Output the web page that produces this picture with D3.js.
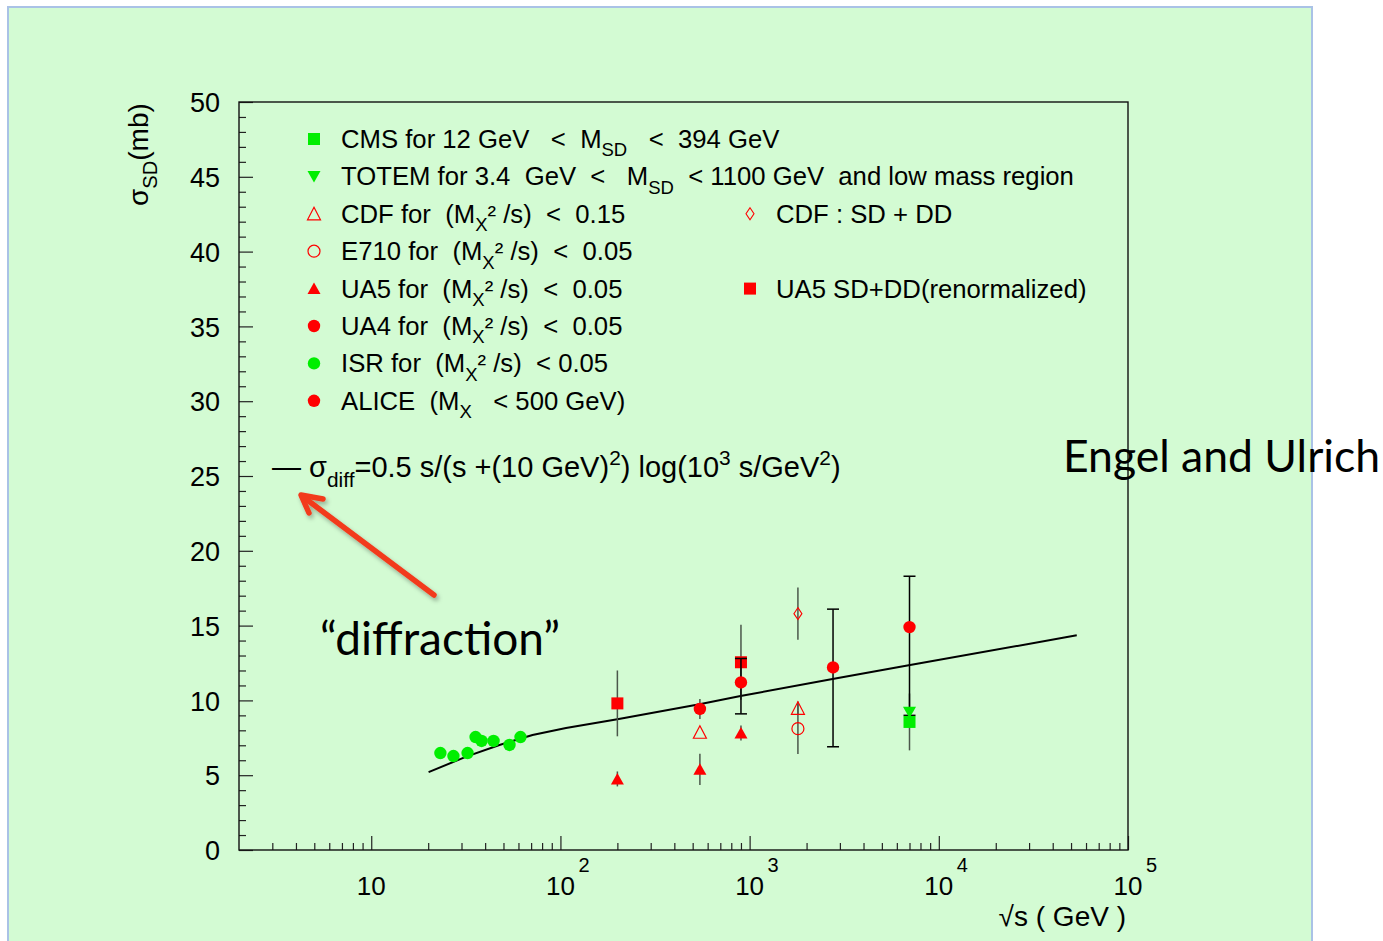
<!DOCTYPE html>
<html>
<head>
<meta charset="utf-8">
<script src="https://cdn.jsdelivr.net/npm/d3@7"></script>
<style>
  body { margin: 0; background: #fff; }
  text { font-family: "Liberation Sans", Arial, sans-serif; white-space: pre; }
  .callout { font-family: Lato, "Open Sans", sans-serif; }
</style>
</head>
<body>
<div id="chart"></div>
<script>
// ---- data: [sqrt(s) GeV, sigma mb, err down, err up] ----
var isr      = [[23.2, 6.48, 0, 0], [27.2, 6.28, 0, 0], [32.3, 6.48, 0, 0], [35.6, 7.55, 0.35, 0.35],
                [38.3, 7.29, 0, 0], [44.3, 7.29, 0, 0], [53.8, 7.02, 0, 0], [61.5, 7.55, 0, 0]];
var ua5      = [[200, 4.75, 0.5, 0.5], [546, 5.39, 1.05, 1.05], [900, 7.82, 0.5, 0.5]];
var ua4      = [[546, 9.43, 0.67, 0.67]];
var cdf      = [[546, 7.87, 0, 0], [1800, 9.47, 0.45, 0.45]];
var e710     = [[1800, 8.11, 1.7, 1.7]];
var cdfSdDd  = [[1800, 15.8, 1.75, 1.75]];
var ua5SdDd  = [[200, 9.8, 2.2, 2.2], [900, 12.55, 2.5, 2.5]];
var alice    = [[900, 11.2, 2.1, 1.6], [2760, 12.2, 5.3, 3.9], [7000, 14.9, 5.9, 3.4]];
var cms      = [[7000, 8.56, 1.9, 1.9]];
var totem    = [[7000, 9.2, 0, 0]];

// Engel and Ulrich curve, sampled from the drawn line
var curveS     = [20.1, 31.8, 47.6, 71.2, 107, 200, 543, 895, 2744, 6934, 53600];
var curveSigma = [5.21, 6.24, 7.02, 7.69, 8.15, 8.74, 9.74, 10.29, 11.43, 12.35, 14.35];

var xDomain = [2, 1e5];
var yDomain = [0, 50];
var xMajor = [10, 100, 1000, 10000, 100000];
var xLabelExp = ["", "2", "3", "4", "5"];
var yMajor = d3.range(0, 51, 5);

var legendRows = [
  [{t: "CMS for 12 GeV   <  M"}, {t: "SD", s: "sub"}, {t: "   <  394 GeV"}],
  [{t: "TOTEM for 3.4  GeV  <   M"}, {t: "SD", s: "sub"}, {t: "  < 1100 GeV  and low mass region"}],
  [{t: "CDF for  (M"}, {t: "X", s: "sub"}, {t: "² /s)  <  0.15"}],
  [{t: "E710 for  (M"}, {t: "X", s: "sub"}, {t: "² /s)  <  0.05"}],
  [{t: "UA5 for  (M"}, {t: "X", s: "sub"}, {t: "² /s)  <  0.05"}],
  [{t: "UA4 for  (M"}, {t: "X", s: "sub"}, {t: "² /s)  <  0.05"}],
  [{t: "ISR for  (M"}, {t: "X", s: "sub"}, {t: "² /s)  < 0.05"}],
  [{t: "ALICE  (M"}, {t: "X", s: "sub"}, {t: "   < 500 GeV)"}]
];
var legendMarks = ["squareG", "triDownG", "triOpen", "circOpen", "triR", "circR", "circG", "circR"];
var legend2 = [{row: 2, mark: "diamond", t: "CDF : SD + DD"}, {row: 4, mark: "squareR", t: "UA5 SD+DD(renormalized)"}];

var width = 1383, height = 941;
var margin = {left: 239, right: 1128, top: 102, bottom: 850};

var svg = d3.select("#chart").append("svg")
    .attr("width", width)
    .attr("height", height);

var defs = svg.append("defs");
var shadow = defs.append("filter").attr("id", "shadow").attr("x", "-20%").attr("y", "-20%")
    .attr("width", "140%").attr("height", "140%");
shadow.append("feDropShadow").attr("dx", 2).attr("dy", 3).attr("stdDeviation", 2)
    .attr("flood-color", "#000").attr("flood-opacity", 0.3);

// slide panel
svg.append("rect")
    .attr("x", 8).attr("y", 7).attr("width", 1304).attr("height", 950)
    .attr("fill", "#d3fbd3").attr("stroke", "#aac2e6").attr("stroke-width", 2);

var x = d3.scaleLog().domain(xDomain).range([margin.left, margin.right]);
var y = d3.scaleLinear().domain(yDomain).range([margin.bottom, margin.top]);

// axes: ticks inside the frame
var xMinor = [];
[1, 10, 100, 1000, 10000].forEach(function(d) {
    for (var k = 2; k <= 9; k++) if (d * k > xDomain[0]) xMinor.push(d * k);
});

svg.append("g").attr("transform", "translate(0," + margin.bottom + ")")
    .call(d3.axisBottom(x).tickValues(xMinor).tickSize(-7).tickFormat("").tickSizeOuter(0))
    .call(function(g) { g.select(".domain").remove(); });
svg.append("g").attr("transform", "translate(0," + margin.bottom + ")")
    .call(d3.axisBottom(x).tickValues(xMajor).tickSize(-14).tickFormat("").tickSizeOuter(0))
    .call(function(g) { g.select(".domain").remove(); });

var yMinor = d3.range(0, 51, 1).filter(function(d) { return d % 5 !== 0; });
svg.append("g").attr("transform", "translate(" + margin.left + ",0)")
    .call(d3.axisLeft(y).tickValues(yMinor).tickSize(-7).tickFormat("").tickSizeOuter(0))
    .call(function(g) { g.select(".domain").remove(); });
svg.append("g").attr("transform", "translate(" + margin.left + ",0)")
    .call(d3.axisLeft(y).tickValues(yMajor).tickSize(-14).tickPadding(19).tickSizeOuter(0))
    .call(function(g) {
        g.select(".domain").remove();
        g.selectAll("text").attr("font-size", 27).attr("fill", "#000")
            .attr("font-family", "Liberation Sans, Arial, sans-serif").attr("dy", "0.36em");
    });
svg.selectAll(".tick line").attr("stroke", "#222").attr("stroke-width", 1.2);

// frame
svg.append("rect")
    .attr("x", margin.left).attr("y", margin.top)
    .attr("width", margin.right - margin.left).attr("height", margin.bottom - margin.top)
    .attr("fill", "none").attr("stroke", "#111").attr("stroke-width", 1.4);

// x tick labels 10^n
var xl = svg.append("g").attr("font-size", 26);
xMajor.forEach(function(v, i) {
    xl.append("text").attr("x", x(v)).attr("y", 895).attr("text-anchor", "middle").text("10");
    if (xLabelExp[i]) {
        xl.append("text").attr("x", x(v) + 18).attr("y", 872).attr("font-size", 20).text(xLabelExp[i]);
    }
});

svg.append("text").attr("x", 1126).attr("y", 926).attr("text-anchor", "end")
    .attr("font-size", 28).text("√s ( GeV )");

// rich text helper (sub/superscripts)
function rich(sel, segs, size) {
    var shift = 0;
    segs.forEach(function(s) {
        var target = s.s === "sub" ? size * 0.33 : s.s === "sup" ? -size * 0.42 : 0;
        sel.append("tspan")
            .attr("dy", target - shift)
            .attr("font-size", s.s ? size * 0.72 : size)
            .text(s.t);
        shift = target;
    });
}

var ylab = svg.append("text")
    .attr("transform", "translate(148,206) rotate(-90)")
    .attr("font-size", 28);
rich(ylab, [{t: "σ"}, {t: "SD", s: "sub"}, {t: "(mb)"}], 28);

// markers
function marker(g, kind, cx, cy) {
    var red = "#ff0000", green = "#00ee00";
    if (kind === "squareG" || kind === "squareR") {
        g.append("rect").attr("x", cx - 6).attr("y", cy - 6).attr("width", 12).attr("height", 12)
            .attr("fill", kind === "squareG" ? green : red);
    } else if (kind === "circR" || kind === "circG") {
        g.append("circle").attr("cx", cx).attr("cy", cy).attr("r", 6.2)
            .attr("fill", kind === "circG" ? green : red);
    } else if (kind === "circOpen") {
        g.append("circle").attr("cx", cx).attr("cy", cy).attr("r", 6)
            .attr("fill", "none").attr("stroke", red).attr("stroke-width", 1.2);
    } else if (kind === "triR") {
        g.append("path").attr("d", "M" + cx + "," + (cy - 6) + "L" + (cx + 6.5) + "," + (cy + 5.5) + "L" + (cx - 6.5) + "," + (cy + 5.5) + "Z")
            .attr("fill", red);
    } else if (kind === "triOpen") {
        g.append("path").attr("d", "M" + cx + "," + (cy - 6.5) + "L" + (cx + 6.5) + "," + (cy + 6) + "L" + (cx - 6.5) + "," + (cy + 6) + "Z")
            .attr("fill", "none").attr("stroke", red).attr("stroke-width", 1.2);
    } else if (kind === "triDownG") {
        g.append("path").attr("d", "M" + cx + "," + (cy + 6) + "L" + (cx + 6.5) + "," + (cy - 5.5) + "L" + (cx - 6.5) + "," + (cy - 5.5) + "Z")
            .attr("fill", green);
    } else if (kind === "diamond") {
        g.append("path").attr("d", "M" + cx + "," + (cy - 6) + "L" + (cx + 4) + "," + cy + "L" + cx + "," + (cy + 6) + "L" + (cx - 4) + "," + cy + "Z")
            .attr("fill", "none").attr("stroke", red).attr("stroke-width", 1.1);
    }
}

// curve
var line = d3.line().x(function(d) { return x(d[0]); }).y(function(d) { return y(d[1]); });
svg.append("path")
    .datum(d3.zip(curveS, curveSigma))
    .attr("d", line)
    .attr("fill", "none").attr("stroke", "#000").attr("stroke-width", 2);

function errBars(data, color, cap) {
    var g = svg.append("g").attr("stroke", color).attr("stroke-width", 1.5);
    data.forEach(function(d) {
        if (!d[2] && !d[3]) return;
        var cx = x(d[0]);
        g.append("line").attr("x1", cx).attr("x2", cx).attr("y1", y(d[1] - d[2])).attr("y2", y(d[1] + d[3]));
        if (cap) {
            [d[1] - d[2], d[1] + d[3]].forEach(function(v) {
                g.append("line").attr("x1", cx - 6).attr("x2", cx + 6).attr("y1", y(v)).attr("y2", y(v));
            });
        }
    });
}
function points(data, kind) {
    var g = svg.append("g");
    data.forEach(function(d) { marker(g, kind, x(d[0]), y(d[1])); });
}

[isr, ua5, ua4, cdf, e710, cdfSdDd, ua5SdDd, cms].forEach(function(s) { errBars(s, "#4b574b", false); });
points(isr, "circG");
points(ua5, "triR");
points(ua4, "circR");
points(cdf, "triOpen");
points(e710, "circOpen");
points(cdfSdDd, "diamond");
points(ua5SdDd, "squareR");
errBars(alice, "#000", true);
points(alice, "circR");
points(totem, "triDownG");
points(cms, "squareG");

// legend
var leg = svg.append("g");
legendRows.forEach(function(segs, i) {
    var cy = 139 + i * 37.4;
    marker(leg, legendMarks[i], 314, cy);
    var t = leg.append("text").attr("x", 341).attr("y", cy + 9).attr("font-size", 25.7);
    rich(t, segs, 25.7);
});
legend2.forEach(function(d) {
    var cy = 139 + d.row * 37.4;
    marker(leg, d.mark, 750, cy);
    leg.append("text").attr("x", 776).attr("y", cy + 9).attr("font-size", 25.7).text(d.t);
});

var ft = svg.append("text").attr("x", 272).attr("y", 477).attr("font-size", 29);
rich(ft, [{t: "— σ"}, {t: "diff", s: "sub"}, {t: "=0.5 s/(s +(10 GeV)"}, {t: "2", s: "sup"},
          {t: ") log(10"}, {t: "3", s: "sup"}, {t: " s/GeV"}, {t: "2", s: "sup"}, {t: ")"}], 29);

// annotations
var arrow = svg.append("g").attr("filter", "url(#shadow)")
    .attr("stroke", "#f23b1d").attr("stroke-width", 5.5).attr("fill", "none")
    .attr("stroke-linecap", "round").attr("stroke-linejoin", "round");
arrow.append("line").attr("x1", 434).attr("y1", 595).attr("x2", 302).attr("y2", 496);
arrow.append("polyline").attr("points", "323,499 301,495 309,513");

svg.append("text").attr("class", "callout").attr("x", 320).attr("y", 655)
    .attr("font-size", 46).text("“diffraction”");
svg.append("text").attr("class", "callout").attr("x", 1063).attr("y", 472)
    .attr("font-size", 44.5).text("Engel and Ulrich");
</script>
</body>
</html>
